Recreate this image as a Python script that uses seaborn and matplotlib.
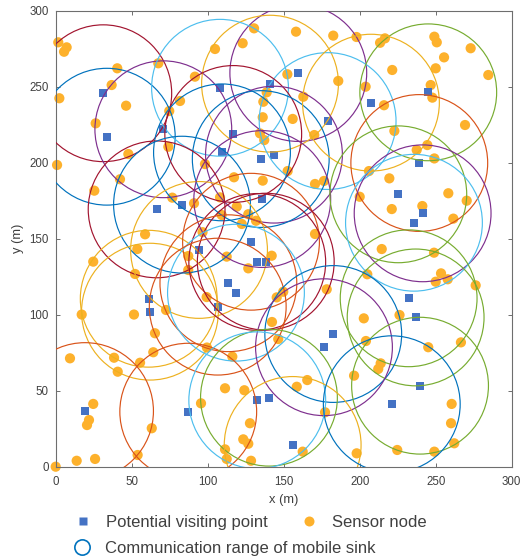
import matplotlib
matplotlib.use("Agg")
import matplotlib.pyplot as plt
from matplotlib.patches import Circle
from matplotlib.lines import Line2D
import seaborn as sns
import pandas as pd

# ---------------- data ----------------
sensor_x = [1.7, 7.2, 5.5, 40.5, 36.8, 2.4, 46.3, 26.3, 47.8, 67.5, 81.8, 74.7, 74.1, 91.6, 0.9, 98.2,
            130.5, 158.1, 182.6, 197.9, 104.8, 123.0, 152.4, 185.9, 162.9, 138.8, 136.6, 136.2, 155.9, 170.1, 134.4, 137.2,
            249.1, 250.7, 216.6, 213.4, 273.0, 255.5, 221.4, 250.0, 284.6, 203.9, 246.7, 247.8, 216.0, 269.3, 222.8, 244.5, 237.5, 249.1,
            42.3, 25.4, 76.7, 91.0, 58.8, 53.7, 24.7, 52.2, 96.6, 87.2, 87.2, 99.3, 17.1, 51.5, 72.6,
            117.3, 136.2, 152.6, 170.6, 176.5, 108.1, 119.1, 126.7, 131.8, 109.2, 122.4, 170.6, 112.5, 142.1, 126.7, 149.7, 145.4, 178.3, 142.3,
            206.1, 219.5, 200.0, 258.3, 270.4, 221.1, 241.2, 261.6, 214.5, 248.9, 253.5, 250.0, 257.9, 276.3, 205.0, 202.7, 226.2,
            65.3, 9.4, 38.4, 55.5, 64.2, 40.8, 24.7, 20.6, 21.9, 63.2, 53.9, 13.8, 25.9, 0.0, 95.6, 99.5,
            146.4, 116.2, 165.5, 158.6, 111.4, 124.1, 127.8, 123.4, 126.7, 111.4, 112.5, 128.5, 162.5, 177.2, 196.3, 198.0,
            204.1, 245.1, 266.6, 213.8, 212.2, 260.5, 260.1, 262.2, 224.7, 249.1]
sensor_y = [279.2, 275.9, 273.0, 262.1, 251.1, 242.4, 237.5, 225.9, 205.7, 265.4, 240.6, 234.0, 210.5, 256.6, 198.5, 199.1,
            288.4, 286.2, 283.6, 282.7, 274.8, 278.6, 258.2, 253.8, 243.4, 246.3, 240.1, 229.9, 228.8, 218.2, 219.3, 214.9,
            282.9, 279.2, 281.8, 278.9, 275.3, 269.3, 261.0, 262.1, 257.7, 250.0, 251.1, 242.8, 237.8, 224.8, 220.9, 211.6, 208.4, 202.8,
            189.1, 181.6, 177.0, 173.3, 152.9, 143.2, 134.9, 126.8, 154.3, 138.6, 129.4, 111.6, 100.1, 100.1, 103.1,
            190.4, 188.2, 194.5, 186.0, 188.0, 177.2, 171.1, 166.1, 161.8, 165.6, 159.7, 153.1, 138.2, 138.8, 130.5, 115.1, 111.4, 116.7, 95.2,
            194.5, 189.7, 177.6, 179.9, 175.0, 169.5, 171.5, 163.2, 143.2, 140.8, 127.2, 121.7, 123.3, 119.3, 126.6, 97.6, 99.8,
            87.8, 71.3, 71.7, 68.4, 75.3, 62.5, 41.3, 27.4, 30.7, 25.3, 7.7, 3.9, 5.1, 0.0, 41.7, 78.4,
            84.0, 72.4, 57.0, 52.6, 51.6, 50.3, 28.6, 18.0, 15.1, 11.4, 5.1, 3.9, 9.9, 35.8, 59.9, 8.8,
            82.7, 78.6, 81.8, 68.0, 64.3, 41.3, 28.6, 15.4, 11.0, 9.9]

visit_x = [31.3, 33.6, 70.8, 159.6, 141.0, 108.1, 178.9, 116.8, 109.4, 143.6, 134.9, 245.1, 207.4, 239.2,
           66.4, 83.1, 94.3, 61.2, 62.0, 135.9, 128.5, 132.6, 138.2, 113.6, 118.6, 106.6, 225.4, 241.4, 235.7,
           232.2, 236.8, 19.3, 87.2, 182.6, 176.5, 140.3, 132.6, 155.9, 239.7, 221.1]
visit_y = [245.7, 217.1, 222.0, 259.0, 252.0, 249.3, 227.4, 218.9, 206.8, 205.3, 202.4, 246.3, 239.5, 199.8,
           169.3, 172.4, 142.6, 110.5, 102.0, 176.1, 148.0, 134.7, 134.9, 120.7, 114.5, 105.3, 179.2, 166.7, 160.5,
           110.8, 98.2, 36.6, 36.2, 87.3, 78.6, 45.4, 43.7, 14.3, 53.3, 41.1]
# colour group of the communication circle drawn around each visiting point
range_group = ["DR", "B", "P", "P", "Y", "LB", "LB", "DR", "B", "P", "B", "G", "Y", "R",
               "DR", "B", "Y", "Y", "Y", "P", "R", "DR", "DR", "R", "LB", "R", "G", "P", "LB",
               "G", "G", "R", "R", "B", "P", "G", "LB", "Y", "G", "B"]
comm_range = 45.0

x_ticks = [0, 50, 100, 150, 200, 250, 300]
y_ticks = [0, 50, 100, 150, 200, 250, 300]

# ---------------- style ----------------
palette = {"B": "#0072BD", "R": "#D95319", "Y": "#EDB120", "P": "#7E2F8E",
           "G": "#77AC30", "LB": "#4DBEEE", "DR": "#A2142F"}
sensor_color = "#FDB12C"
visit_color = "#4472C4"
text_color = "#404040"
axis_color = "#6e6e6e"

sns.set_theme(style="white")
plt.rcParams["font.family"] = ["Liberation Sans", "DejaVu Sans"]

W, H = 529, 558
fig = plt.figure(figsize=(W / 100, H / 100), dpi=100)
ax = fig.add_axes([55.7 / W, 1 - 466.7 / H, 456 / W, 456 / H])

sensors = pd.DataFrame({"x": sensor_x, "y": sensor_y})
visits = pd.DataFrame({"x": visit_x, "y": visit_y})

sns.scatterplot(data=sensors, x="x", y="y", ax=ax, color=sensor_color, s=54,
                marker="o", edgecolor="none", linewidth=0, zorder=2, clip_on=False)
sns.scatterplot(data=visits, x="x", y="y", ax=ax, color=visit_color, s=34,
                marker="s", edgecolor="none", linewidth=0, zorder=3, clip_on=False)

for cx, cy, g in zip(visit_x, visit_y, range_group):
    ax.add_patch(Circle((cx, cy), comm_range, fill=False, edgecolor=palette[g],
                        linewidth=0.85, zorder=4))

ax.set_xlim(0, 300)
ax.set_ylim(0, 300)
ax.set_xticks(x_ticks)
ax.set_yticks(y_ticks)
ax.tick_params(direction="in", length=3, width=0.7, color=axis_color,
               labelsize=8.3, labelcolor=text_color, top=True, right=True,
               bottom=True, left=True, pad=5)
ax.tick_params(axis="x", pad=7)
for sp in ax.spines.values():
    sp.set_visible(True)
    sp.set_color(axis_color)
    sp.set_linewidth(0.8)
ax.set_xlabel("x (m)", fontsize=9.3, color=text_color, labelpad=4)
ax.set_ylabel("y (m)", fontsize=9.3, color=text_color, labelpad=4)
ax.grid(False)

# ---------------- legend ----------------
h_visit = Line2D([], [], linestyle="none", marker="s", markersize=6,
                 markerfacecolor=visit_color, markeredgecolor="none")
h_sensor = Line2D([], [], linestyle="none", marker="o", markersize=7.2,
                  markerfacecolor=sensor_color, markeredgecolor="none")
h_range = Line2D([], [], linestyle="none", marker="o", markersize=11,
                 markerfacecolor="none", markeredgecolor="#0072BD", markeredgewidth=1.2)

leg_kw = dict(frameon=False, fontsize=12, handlelength=1.0, handletextpad=0.9,
              borderpad=0, borderaxespad=0, labelcolor=text_color, loc="center left")
fig.legend([h_visit, h_sensor], ["Potential visiting point", "Sensor node"],
           ncol=2, columnspacing=1.95, bbox_to_anchor=(74.7 / W, 1 - 522.5 / H), **leg_kw)
fig.legend([h_range], ["Communication range of mobile sink"],
           bbox_to_anchor=(73.7 / W, 1 - 548 / H), **leg_kw)

fig.savefig("out.png", dpi=100)
